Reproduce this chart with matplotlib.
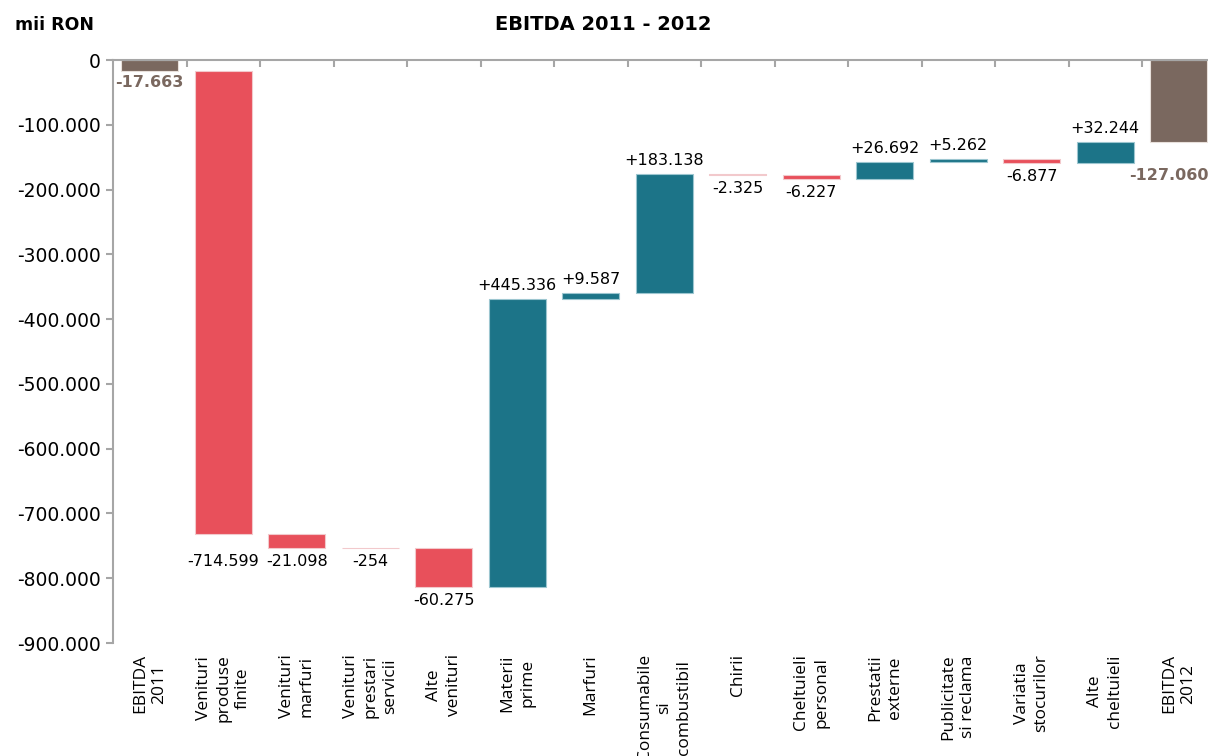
import matplotlib
matplotlib.use("Agg")
import matplotlib.pyplot as plt
from matplotlib.ticker import FuncFormatter
from matplotlib.transforms import offset_copy

# ---------------- data ----------------
categories = ["EBITDA\n2011", "Venituri\nproduse\nfinite", "Venituri\nmarfuri",
              "Venituri\nprestari\nservicii", "Alte\nvenituri", "Materii\nprime",
              "Marfuri", "Consumabile\nsi\ncombustibil", "Chirii",
              "Cheltuieli\npersonal", "Prestatii\nexterne", "Publicitate\nsi reclama",
              "Variatia\nstocurilor", "Alte\ncheltuieli", "EBITDA\n2012"]
values = [-17663, -714599, -21098, -254, -60275, 445336, 9587, 183138,
          -2325, -6227, 26692, 5262, -6877, 32244, -127060]
kinds = ["total"] + ["delta"] * 13 + ["total"]
yticks = [0, -100000, -200000, -300000, -400000, -500000, -600000,
          -700000, -800000, -900000]

# ---------------- style ----------------
C_TOTAL = "#7A685F"
C_NEG = "#E8505B"
C_POS = "#1C7488"
C_AXIS = "#A6A6A6"

def fmt_num(v, sign=False):
    s = f"{abs(int(round(v))):,}".replace(",", ".")
    if v < 0:
        return "-" + s
    return ("+" + s) if sign else s

fig = plt.figure(figsize=(12.08, 7.56), dpi=100)
ax = fig.add_axes([113 / 1208, 1 - 643 / 756, 1 - 113 / 1208, (643 - 60) / 756])

running = 0.0
bottoms, heights, colors = [], [], []
for v, k in zip(values, kinds):
    if k == "total":
        bottoms.append(0.0)
        heights.append(v)
        colors.append(C_TOTAL)
        running = v
    else:
        bottoms.append(running)
        heights.append(v)
        colors.append(C_POS if v > 0 else C_NEG)
        running += v

x = list(range(len(categories)))
edge = ["#F2C9CC" if c == C_NEG else ("#9CC6D0" if c == C_POS else "#E8E0DB") for c in colors]
ax.bar(x, heights, bottom=bottoms, width=0.775, color=colors,
       edgecolor=edge, linewidth=0.8, zorder=2)

# labels
extra_dy = {1: -14, 14: -22}   # pixel tweaks
extra_dx = {14: -10}
for i, (v, k, b) in enumerate(zip(values, kinds, bottoms)):
    lo = min(b, b + v)
    hi = max(b, b + v)
    dx = extra_dx.get(i, 0)
    if k == "total":
        tr = offset_copy(ax.transData, fig=fig, x=dx, y=-4 + extra_dy.get(i, 0), units="dots")
        ax.text(i, lo, fmt_num(v), transform=tr, ha="center", va="top",
                fontsize=11.5, fontweight="bold", color=C_TOTAL,
                family="DejaVu Sans", clip_on=False)
    elif v < 0:
        tr = offset_copy(ax.transData, fig=fig, x=dx, y=-6 + extra_dy.get(i, 0), units="dots")
        ax.text(i, lo, fmt_num(v, sign=True), transform=tr, ha="center", va="top",
                fontsize=11.5, color="black", family="DejaVu Sans")
    else:
        tr = offset_copy(ax.transData, fig=fig, x=dx, y=6, units="dots")
        ax.text(i, hi, fmt_num(v, sign=True), transform=tr, ha="center", va="bottom",
                fontsize=11.5, color="black", family="DejaVu Sans")

# axes
ax.set_ylim(-900000, 0)
ax.set_xlim(-0.5, -0.5 + (1208 - 113) / 73.5)
ax.set_yticks(yticks)
ax.yaxis.set_major_formatter(FuncFormatter(lambda v, p: fmt_num(v)))
ax.set_xticks(x)
ax.set_xticklabels(categories, rotation=90, ha="center", va="top",
                   multialignment="center", fontsize=12.5, family="Open Sans",
                   linespacing=1.3)
ax.set_xticks([i + 0.5 for i in range(len(categories) - 1)], minor=True)

for s in ["bottom", "right"]:
    ax.spines[s].set_visible(False)
for s in ["top", "left"]:
    ax.spines[s].set_color(C_AXIS)
    ax.spines[s].set_linewidth(1.5)

ax.tick_params(axis="x", which="major", length=0, pad=8)
ax.tick_params(axis="x", which="minor", top=True, bottom=False, direction="in",
               length=5, width=1.5, color=C_AXIS)
ax.tick_params(axis="y", which="major", direction="out", length=5, width=1.5,
               color=C_AXIS, labelsize=13.5, pad=4)
for t in ax.get_yticklabels():
    t.set_family("DejaVu Sans")

fig.text(15 / 1208, 1 - 25 / 756, "mii RON", ha="left", va="center",
         fontsize=12.5, fontweight="bold", family="DejaVu Sans")
fig.text(603 / 1208, 1 - 25 / 756, "EBITDA 2011 - 2012", ha="center", va="center",
         fontsize=14, fontweight="bold", family="DejaVu Sans")

fig.savefig("out.png", dpi=100)
